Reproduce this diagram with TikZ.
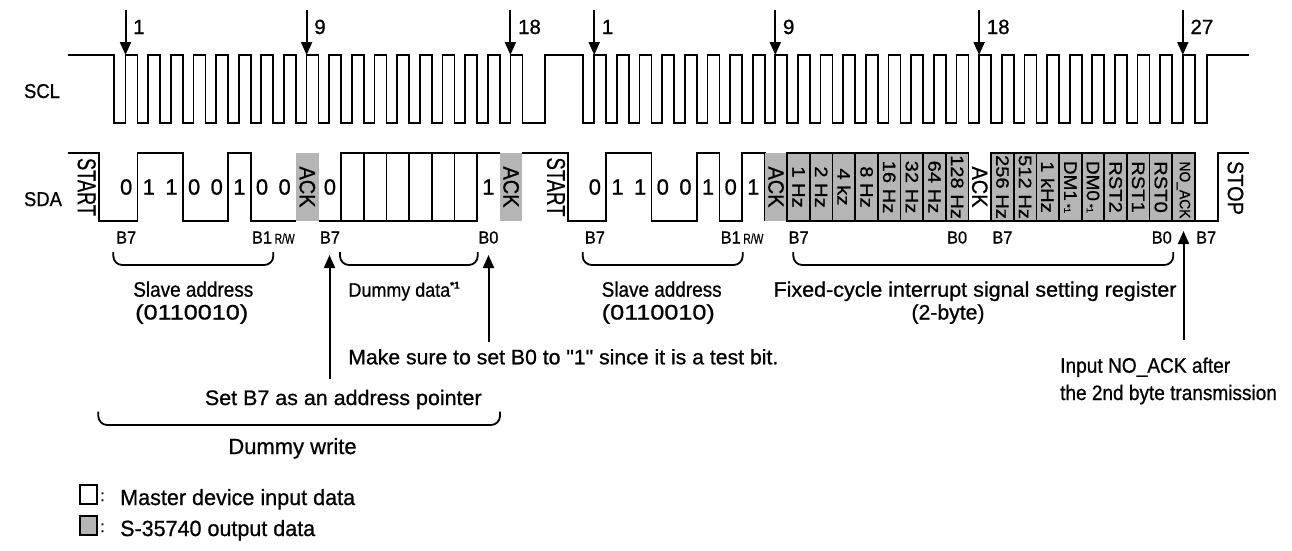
\documentclass[tikz,border=0pt]{standalone}
\usepackage{fontspec}
\setmainfont{Liberation Sans}[Ligatures=TeXOff,FakeBold=0.8]
\usetikzlibrary{arrows.meta}
\definecolor{sgray}{RGB}{181,181,181}
\newcommand\fsz[1]{\fontsize{#1}{#1}\selectfont}
\newcommand\tw[2]{\resizebox{#1pt}{\height}{#2}}
\newcommand\rl[3]{\resizebox{#1pt}{#2pt}{#3}}
\begin{document}
\begin{tikzpicture}[x=1pt,y=-1pt,
  wave/.style={line width=1.7pt},
  arr/.style={line width=2pt,-{Triangle[length=13pt,width=11pt]}},
  brace/.style={line width=1.8pt,rounded corners=9pt},
  txt/.style={inner sep=0pt,anchor=base},
  txtw/.style={inner sep=0pt,anchor=base west},
  rot/.style={inner sep=0pt,rotate=-90},
  dig/.style={inner sep=0pt,font=\fsz{22}}]
\useasboundingbox (0,0) rectangle (1292,550);

% ---------------- SCL ----------------
\draw[wave] (68,55) -- (114,55) -- (114,123)
  \foreach \k in {0,...,17} { -- ({125.5+\k*22.64},123) -- ({125.5+\k*22.64},55) -- ({137.5+\k*22.64},55) -- ({137.5+\k*22.64},123) }
  -- (545,123) -- (545,55) -- (582.7,55) -- (582.7,123)
  \foreach \k in {0,...,26} { -- ({594.2+\k*22.64},123) -- ({594.2+\k*22.64},55) -- ({606.2+\k*22.64},55) -- ({606.2+\k*22.64},123) }
  -- (1206.7,123) -- (1206.7,55) -- (1249,55);

% clock arrows
\foreach \x/\l/\n in {125.5/1/a, 306.6/9/b, 510.4/18/c, 594.2/1/d, 775.3/9/e, 979.1/18/f, 1182.8/27/g} {
  \coordinate (t\n) at (\x,10);
  \coordinate (h\n) at (\x,55);
  \draw[arr] (t\n) -- (h\n);
  \node[txtw,font=\fsz{20.5}] (num\n) at (\x+7.5,34) {\l};
}

% ---------------- SDA ----------------
\draw[wave] (68,153) -- (99.3,153) -- (99.3,221) -- (137.5,221) -- (137.5,153) -- (182.78,153) -- (182.78,221) -- (228.06,221) -- (228.06,153) -- (250.70,153) -- (250.70,221) -- (295.98,221);
\fill[sgray] (295.98,153) rectangle (318.62,221);
\draw[wave] (318.62,221) -- (341.26,221) -- (341.26,153) -- (499.74,153);
\draw[wave] (341.26,221) -- (477.10,221) -- (477.10,153);
\foreach \x in {363.90,386.54,409.18,431.82,454.46} \draw[wave] (\x,153) -- (\x,221);
\fill[sgray] (499.74,153) rectangle (522.38,221);
\draw[wave] (522.38,153) -- (568.3,153) -- (568.3,221) -- (606.2,221) -- (606.2,153) -- (651.48,153) -- (651.48,221) -- (696.76,221) -- (696.76,153) -- (719.40,153) -- (719.40,221) -- (742.04,221) -- (742.04,153) -- (764.68,153) -- (764.68,221);
\fill[sgray] (764.68,153) rectangle (787.32,221);
\filldraw[wave,fill=sgray] (787.32,153) rectangle (968.44,221);
\foreach \x in {809.96,832.60,855.24,877.88,900.52,923.16,945.80} \draw[wave] (\x,153) -- (\x,221);
\draw[wave] (968.44,221) -- (991.08,221);
\filldraw[wave,fill=sgray] (991.08,153) rectangle (1194.84,221);
\foreach \x in {1013.72,1036.36,1059.00,1081.64,1104.28,1126.92,1149.56,1172.20} \draw[wave] (\x,153) -- (\x,221);
\draw[wave] (1194.84,221) -- (1217.7,221) -- (1217.7,153) -- (1249,153);

% START / STOP / ACK labels
\node[rot] (start1) at (86.7,187) {\rl{58}{18}{\fsz{22}START}};
\node[rot] (start2) at (556,187) {\rl{59}{18}{\fsz{22}START}};
\node[rot] (stop) at (1235.5,188) {\rl{54}{15.5}{\fsz{21}STOP}};
\foreach \x/\n in {307.3/a1, 511.06/a2, 776.0/a3, 979.76/a4}
  \node[rot] (ack\n) at (\x,187) {\rl{41}{15.5}{\fsz{21}ACK}};
\node[rot] (noack) at (1183.52,190) {\rl{57}{10.5}{\fsz{14}NO\_ACK}};

% data digits
\foreach \x/\d [count=\i] in {126.18/0,148.82/1,171.46/1,194.1/0,216.74/0,239.38/1,262.02/0,284.66/0,329.94/0,488.42/1,
  594.88/0,617.52/1,640.16/1,662.8/0,685.44/0,708.08/1,730.72/0,753.36/1}
  \node[dig] (dg\i) at (\x,187) {\d};

% register labels
\foreach \x/\t [count=\i] in {798.64/1 Hz, 821.28/2 Hz, 843.92/4 kz, 866.56/8 Hz, 889.2/16 Hz, 911.84/32 Hz, 934.48/64 Hz, 957.12/128 Hz,
  1002.4/256 Hz, 1025.04/512 Hz, 1047.68/1 kHz, 1115.6/RST2, 1138.24/RST1, 1160.88/RST0}
  \node[rot] (rg\i) at (\x,187) {\scalebox{1.12}[1]{\fsz{18}\t}};
\node[rot] (dm1) at (1070.32,187) {\scalebox{1.05}[1]{\fsz{18}DM1\,{\fsz{9}*1}}};
\node[rot] (dm0) at (1092.96,187) {\scalebox{1.05}[1]{\fsz{18}DM0\,{\fsz{9}*1}}};

% bit labels
\foreach \x/\t [count=\i] in {126.18/B7, 262.02/B1, 329.94/B7, 488.42/B0, 594.88/B7, 730.72/B1, 798.64/B7, 957.12/B0, 1002.4/B7, 1161.8/B0, 1206.16/B7}
  \node[txt] (bl\i) at (\x,243.5) {\tw{20}{\fsz{17.5}\t}};
\node[txt] (rw1) at (284.66,243.5) {\tw{20}{\fsz{14}R/W}};
\node[txt] (rw2) at (753.36,243.5) {\tw{20}{\fsz{14}R/W}};

% signal names
\node[txt] (scl) at (42,98) {\tw{36}{\fsz{20}SCL}};
\node[txt] (sda) at (43,206) {\tw{38}{\fsz{20}SDA}};

% brackets
\draw[brace] (113.3,252) -- (113.3,265) -- (273.3,265) -- (273.3,252);
\draw[brace] (340,252) -- (340,265) -- (477.7,265) -- (477.7,252);
\draw[brace] (582.7,252) -- (582.7,265) -- (742.7,265) -- (742.7,252);
\draw[brace] (793.3,252) -- (793.3,265) -- (1173.3,265) -- (1173.3,252);
\draw[brace] (98.3,411.7) -- (98.3,425) -- (500,425) -- (500,411.7);

% bracket texts
\node[txt] (sa1) at (193.3,296.7) {\tw{120}{\fsz{21}Slave address}};
\node[txt] (sv1) at (191.7,319.5) {\tw{113}{\fsz{21}(0110010)}};
\node[txtw] (dd) at (348.3,296.7) {\tw{101.7}{\fsz{19.5}Dummy data}\textbf{\fsz{10}\raisebox{8pt}{*1}}};
\node[txt] (sa2) at (661.7,296.7) {\tw{120}{\fsz{21}Slave address}};
\node[txt] (sv2) at (658.3,319.5) {\tw{113}{\fsz{21}(0110010)}};
\node[txt] (fx) at (975,296.7) {\tw{403}{\fsz{21}Fixed-cycle interrupt signal setting register}};
\node[txt] (tb) at (948,319.5) {\tw{73}{\fsz{21}(2-byte)}};
\node[txt] (dw) at (292.5,454) {\tw{128.3}{\fsz{22}Dummy write}};

% annotation arrows
\coordinate (p1b) at (329.5,379);
\coordinate (p1t) at (329.5,255);
\coordinate (p2b) at (488.5,341.7);
\coordinate (p2t) at (488.5,255);
\coordinate (p3b) at (1183.5,340);
\coordinate (p3t) at (1183.5,231);
\draw[arr] (p1b) -- (p1t);
\draw[arr] (p2b) -- (p2t);
\draw[arr] (p3b) -- (p3t);
\node[txt] (ms) at (563.3,364.3) {\tw{430}{\fsz{21}Make sure to set B0 to "1" since it is a test bit.}};
\node[txt] (sb) at (343.3,405) {\tw{276.7}{\fsz{21}Set B7 as an address pointer}};
\node[txtw] (in1) at (1060,372.7) {\tw{170}{\fsz{21}Input NO\_ACK after}};
\node[txtw] (in2) at (1060,400) {\tw{216.7}{\fsz{21}the 2nd byte transmission}};

% legend
\draw[line width=2pt] (80,485) rectangle (96.5,504) node[coordinate] (lg1) {};
\filldraw[line width=2pt,fill=sgray] (80,516) rectangle (96.5,535) node[coordinate] (lg2) {};
\node[txtw] (c1) at (100,501) {\fsz{16}:};
\node[txtw] (c2) at (100,532) {\fsz{16}:};
\node[txtw] (lt1) at (120,505) {\tw{235}{\fsz{22}Master device input data}};
\node[txtw] (lt2) at (120,536) {\tw{195}{\fsz{22}S-35740 output data}};
\end{tikzpicture}
\end{document}
